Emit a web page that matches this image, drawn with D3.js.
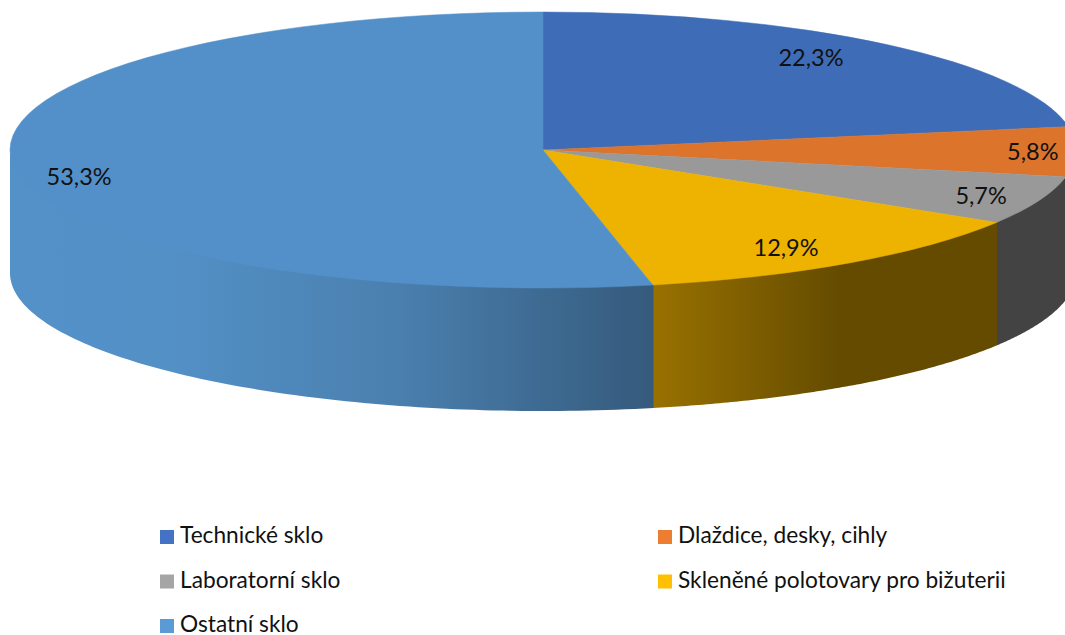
<!DOCTYPE html>
<html>
<head>
<meta charset="utf-8">
<script src="https://cdn.jsdelivr.net/npm/d3@7"></script>
<style>
  html, body { margin: 0; padding: 0; background: #fff; overflow: hidden; }
  text { font-family: Lato, "Open Sans", sans-serif; fill: #111; }
</style>
</head>
<body>
<script>
// Chart data
var categories = ["Technické sklo", "Dlaždice, desky, cihly", "Laboratorní sklo", "Skleněné polotovary pro bižuterii", "Ostatní sklo"];
var values = [22.3, 5.8, 5.7, 12.9, 53.3];
var valueLabels = ["22,3%", "5,8%", "5,7%", "12,9%", "53,3%"];

// Colours
var legendColors = ["#4472c4", "#ed7d31", "#a5a5a5", "#ffc000", "#5b9bd5"];
var topColors = ["#3f6cb6", "#dc742c", "#999999", "#eeb200", "#5390c9"];

// How far along the ellipse each label sits (x and y)
var labelFx = [0.78, 0.919, 0.883, 0.793, 0.875];
var labelFy = [0.87, 1.15, 0.914, 0.868, 1.88];

var svgWidth = 1065;
var svgHeight = 635;

// Ellipse of the tilted pie
var cx = 543, cy = 150, rx = 533, ry = 138, depth = 123;

var svg = d3.select("body")
  .append("svg")
  .attr("width", svgWidth)
  .attr("height", svgHeight)
  .style("display", "block");

var defs = svg.append("defs");

function wallGradient(id, x1, x2, stops) {
  var g = defs.append("linearGradient")
    .attr("id", id)
    .attr("gradientUnits", "userSpaceOnUse")
    .attr("x1", x1).attr("x2", x2)
    .attr("y1", 0).attr("y2", 0);
  stops.forEach(function(s) {
    g.append("stop").attr("offset", s[0]).attr("stop-color", s[1]);
  });
}

wallGradient("wallBlue", cx - rx, cx + rx * Math.sin(168.1 * Math.PI / 180), [
  [0, "#5391c9"], [0.25, "#5390c6"], [0.6, "#4a80af"], [1, "#355a7c"]
]);
wallGradient("wallGold", 653, 996, [
  [0, "#987100"], [0.55, "#644b00"], [1, "#644b00"]
]);

var wallFills = ["#2a4270", "#843c0c", "#434343", "url(#wallGold)", "url(#wallBlue)"];

var pie = d3.pie().sort(null).value(function(d) { return d; });
var slices = pie(values);

// Outer wall, only the front half of the ellipse can be seen.
// It starts a little under the top face so no white seam shows along the rim.
var wallArea = d3.area()
  .x(function(a) { return cx + rx * Math.sin(a); })
  .y0(function(a) { return cy - ry * Math.cos(a) - 3; })
  .y1(function(a) { return cy - ry * Math.cos(a) + depth; });

svg.append("g").selectAll("path")
  .data(slices)
  .enter()
  .append("path")
  .attr("fill", function(d, i) { return wallFills[i]; })
  .attr("d", function(d) {
    var a0 = Math.max(d.startAngle - 0.0015, Math.PI / 2);
    var a1 = Math.min(d.endAngle, Math.PI * 1.5);
    if (a1 <= a0) return null;
    return wallArea(d3.range(0, 101).map(function(k) { return a0 + (a1 - a0) * k / 100; }));
  });

// Top face
var arc = d3.arc().innerRadius(0).outerRadius(rx);

svg.append("g")
  .attr("transform", "translate(" + cx + "," + cy + ") scale(1," + (ry / rx) + ")")
  .selectAll("path")
  .data(slices)
  .enter()
  .append("path")
  .attr("d", arc)
  .attr("fill", function(d, i) { return topColors[i]; })
  .attr("stroke", function(d, i) { return topColors[i]; })
  .attr("stroke-width", 0.5)
  .attr("vector-effect", "non-scaling-stroke");

// Value labels
svg.append("g").selectAll("text")
  .data(slices)
  .enter()
  .append("text")
  .attr("text-anchor", "middle")
  .attr("dominant-baseline", "central")
  .attr("font-size", 23.5)
  .attr("x", function(d, i) {
    var mid = (d.startAngle + d.endAngle) / 2;
    return cx + rx * labelFx[i] * Math.sin(mid);
  })
  .attr("y", function(d, i) {
    var mid = (d.startAngle + d.endAngle) / 2;
    return cy - ry * labelFy[i] * Math.cos(mid) - 1;
  })
  .text(function(d, i) { return valueLabels[i]; });

// Legend, two columns
var legendCol = d3.scaleOrdinal().domain([0, 1]).range([160, 658]);
var legendRow = d3.scaleLinear().domain([0, 2]).range([530, 619]);

var legend = svg.append("g").selectAll("g")
  .data(categories)
  .enter()
  .append("g")
  .attr("transform", function(d, i) {
    return "translate(" + legendCol(i % 2) + "," + legendRow(Math.floor(i / 2)) + ")";
  });

legend.append("rect")
  .attr("width", 14)
  .attr("height", 14)
  .attr("fill", function(d, i) { return legendColors[i]; });

legend.append("text")
  .attr("x", 20)
  .attr("y", 13)
  .attr("font-size", 22.7)
  .text(function(d) { return d; });
</script>
</body>
</html>
